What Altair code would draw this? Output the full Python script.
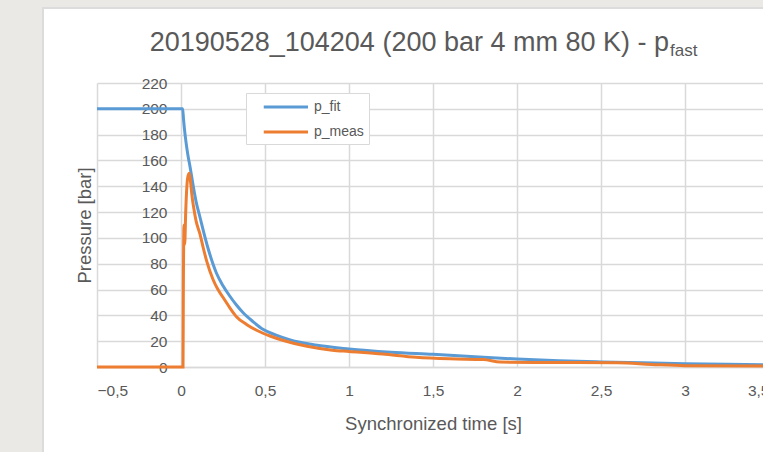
import altair as alt
import pandas as pd

# ---- data ----
fit_t = [-0.5, 0.0, 0.01, 0.015, 0.02, 0.03, 0.04, 0.054, 0.073, 0.09, 0.113, 0.14, 0.163,
         0.19, 0.21, 0.25, 0.29, 0.33, 0.37, 0.43, 0.49, 0.57, 0.65, 0.8, 1.0, 1.25, 1.5,
         1.75, 2.0, 2.25, 2.5, 2.75, 3.0, 3.25, 3.5]
fit_p = [200, 200, 200, 192, 185, 174, 165, 155, 140, 128, 116, 102, 91,
         80, 73, 63, 55, 48, 42, 35, 29, 24.5, 21, 17, 14, 11.5, 9.8,
         7.9, 6.2, 4.8, 3.9, 3.2, 2.6, 2.1, 1.7]

meas_t = [-0.5, 0.0, 0.012, 0.014, 0.018, 0.022, 0.028, 0.035, 0.042, 0.05, 0.058, 0.066,
          0.075, 0.09, 0.113, 0.133, 0.153, 0.19, 0.22, 0.25, 0.29, 0.33, 0.39, 0.45, 0.53,
          0.61, 0.75, 0.9, 1.0, 1.2, 1.4, 1.6, 1.8, 1.9, 2.2, 2.6, 2.8, 3.0, 3.5]
meas_p = [0, 0, 0, 60, 110, 95, 120, 140, 148, 150, 142, 132,
          124, 113, 103, 92, 82, 68, 60, 54, 46, 39, 33, 28.5, 24,
          20.5, 16, 13, 12, 10, 7.5, 6.3, 5.8, 3.8, 3.5, 3.2, 2.0, 1.0, 0.8]

series_names = ["p_fit", "p_meas"]
series_colors = ["#5b9bd5", "#ed7d31"]
x_ticks = [-0.5, 0, 0.5, 1, 1.5, 2, 2.5, 3, 3.5]
y_ticks = list(range(0, 221, 20))
title_main = "20190528_104204 (200 bar 4 mm 80 K) - p"
title_sub = "fast"

rows = [{"t": t, "p": p, "series": series_names[0], "order": i} for i, (t, p) in enumerate(zip(fit_t, fit_p))]
rows += [{"t": t, "p": p, "series": series_names[1], "order": i} for i, (t, p) in enumerate(zip(meas_t, meas_p))]
df = pd.DataFrame(rows)

FONT = "Liberation Sans"
TXT = "#595959"
GRID = "#d9d9d9"

lines = alt.Chart(df).mark_line(strokeWidth=3, interpolate="monotone").encode(
    x=alt.X("t:Q",
            scale=alt.Scale(domain=[-0.5, 3.5], range=[0, 672], nice=False, zero=False),
            axis=alt.Axis(values=x_ticks, title="Synchronized time [s]",
                          labelExpr="replace(format(datum.value, '.1~f'), '.', ',')",
                          grid=True, gridColor=GRID, gridWidth=1.5,
                          domain=True, domainColor=GRID, domainWidth=1.5,
                          ticks=False, labelPadding=16, titlePadding=16,
                          labelFontSize=15.5, titleFontSize=18.5,
                          labelColor=TXT, titleColor=TXT,
                          labelFont=FONT, titleFont=FONT, titleFontWeight="normal")),
    y=alt.Y("p:Q",
            scale=alt.Scale(domain=[0, 220], nice=False),
            axis=alt.Axis(values=y_ticks, title="Pressure [bar]", offset=-84,
                          grid=True, gridColor=GRID, gridWidth=1.5,
                          domain=False, ticks=False, labelPadding=14,
                          labelFontSize=15.5, titleFontSize=18.5,
                          labelColor=TXT, titleColor=TXT,
                          labelFont=FONT, titleFont=FONT, titleFontWeight="normal",
                          titleX=-97, titleY=142, titleAngle=270,
                          titleAlign="center", titleBaseline="middle")),
    color=alt.Color("series:N",
                    scale=alt.Scale(domain=series_names, range=series_colors),
                    legend=alt.Legend(title=None, orient="none", legendX=149, legendY=10,
                                      symbolType="M0.5,0H6.4", symbolStrokeWidth=3,
                                      symbolSize=225, labelOffset=45,
                                      labelFontSize=14, labelFont=FONT,
                                      labelColor=TXT, padding=5, rowPadding=9,
                                      strokeColor=GRID, fillColor="white")),
    order="order:Q",
)

bg = alt.Data(values=[{"k": 1}])
left_strip = alt.Chart(bg).mark_rect(color="#ebe9e5").encode(
    x=alt.value(-97), x2=alt.value(-54), y=alt.value(-83), y2=alt.value(369))
top_strip = alt.Chart(bg).mark_rect(color="#ebe9e5").encode(
    x=alt.value(-97), x2=alt.value(666), y=alt.value(-83), y2=alt.value(-75))
card_edge = alt.Chart(bg).mark_rect(fill="white", fillOpacity=0, stroke="#dcdcdc", strokeWidth=2).encode(
    x=alt.value(-54), x2=alt.value(720), y=alt.value(-75), y2=alt.value(420))

title_a = alt.Chart(bg).mark_text(text=title_main, font=FONT, fontSize=27, color=TXT,
                                  align="right", baseline="alphabetic").encode(
    x=alt.value(572), y=alt.value(-32))
title_b = alt.Chart(bg).mark_text(text=title_sub, font=FONT, fontSize=17, color=TXT,
                                  align="left", baseline="alphabetic").encode(
    x=alt.value(573), y=alt.value(-27))

chart = alt.layer(left_strip, top_strip, card_edge, title_a, title_b, lines).properties(
    width=666, height=284,
    autosize=alt.AutoSizeParams(type="none"),
    padding={"left": 97, "top": 83, "right": 0, "bottom": 85},
    background="white",
).configure_view(stroke=None)

chart.save("out.html", embed_options={"renderer": "svg", "actions": False})
